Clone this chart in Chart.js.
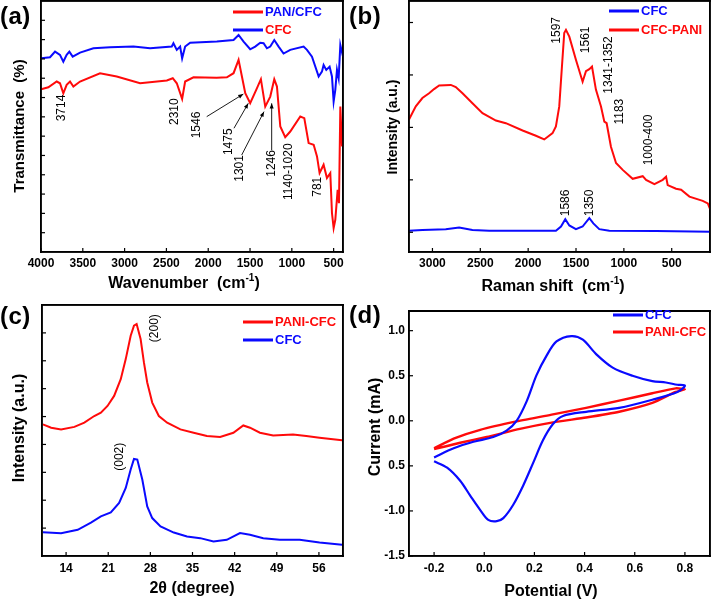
<!DOCTYPE html>
<html><head><meta charset="utf-8">
<script src="https://cdn.jsdelivr.net/npm/chart.js@4"></script>
<style>
html,body{margin:0;padding:0;background:#fff;}
#wrap{position:relative;width:713px;height:600px;overflow:hidden;background:#fff;}
canvas{position:absolute;}
.pl{position:absolute;font:bold 24px "Liberation Sans",Arial,Helvetica,sans-serif;color:#000;line-height:24px;letter-spacing:0.5px;}
</style></head><body>
<div id="wrap">
<canvas id="ca" width="356" height="300" style="left:0;top:0"></canvas>
<canvas id="cb" width="357" height="300" style="left:356px;top:0"></canvas>
<canvas id="cc" width="356" height="300" style="left:0;top:300px"></canvas>
<canvas id="cd" width="357" height="300" style="left:356px;top:300px"></canvas>
<div class="pl" style="left:0;top:4px">(a)</div>
<div class="pl" style="left:349px;top:4px">(b)</div>
<div class="pl" style="left:0;top:304px">(c)</div>
<div class="pl" style="left:349px;top:303px">(d)</div>
</div>
<script>
// ---------- (a) FTIR ----------
const ftirPanX = [4000,3912,3812,3773,3733,3693,3653,3613,3533,3294,3094,2815,2495,2424,2376,2312,2276,2176,1900,1777,1697,1637,1597,1557,1498,1426,1370,1318,1258,1210,1178,1138,1079,1019,899,851,799,739,699,668,620,580,540,520,500,480,452,436,420,400];
const ftirPanY = [8.43,8.53,8.83,8.74,8.22,8.66,8.83,8.57,8.83,9.26,9.09,8.74,8.88,9.0,8.74,7.93,8.83,9.05,9.02,9.05,9.26,9.95,9.09,8.22,7.71,8.4,8.95,7.53,8.05,8.95,8.57,6.5,5.95,6.24,7.02,6.93,5.64,5.55,4.95,4.09,4.52,3.83,4.09,2.02,1.24,1.67,3.22,2.53,7.53,5.47];
const ftirCfcX = [4000,3892,3832,3773,3733,3693,3661,3621,3533,3373,3174,2894,2695,2436,2416,2376,2336,2312,2276,2216,1897,1697,1637,1577,1498,1438,1378,1338,1298,1258,1210,1158,1099,1019,859,819,759,679,640,620,588,548,520,500,480,460,440,420,388];
const ftirCfcY = [10.03,10.09,10.38,10.21,9.86,10.21,10.38,10.12,10.33,10.55,10.6,10.64,10.55,10.64,10.81,10.47,10.64,10.03,10.64,10.84,10.9,10.98,11.24,10.9,10.5,10.64,10.84,10.81,10.55,10.64,10.98,10.64,10.28,10.47,10.64,10.47,10.12,9.09,9.34,9.69,9.43,9.6,9.09,7.8,8.4,9.43,9.0,10.72,10.12];
const ftirXTicks = [4000,3500,3000,2500,2000,1500,1000,500];
const ftirYTicks = [1,2,3,4,5,6,7,8,9,10,11,12];
const ftirNotes = [['3714',3749,7.46],['2310',2397,7.27],['1546',2138,6.58],['1475',1760,5.71],['1301',1628,4.33],['1246',1241,4.59],['1140-1020',1042,4.16],['781',695,3.38]];
const ftirArrows = [[2018,7.01,1580,8.18],[1692,6.41,1521,7.70],[1600,5.02,1333,7.27],[1241,5.28,1241,7.70]];

// ---------- (b) Raman ----------
const ramanCfcX = [3245,3105,2861,2721,2582,2407,1710,1657,1612,1570,1501,1431,1361,1319,1257,1152,664,99];
const ramanCfcY = [0.03,0.045,0.06,0.09,0.045,0.03,0.03,0.11,0.25,0.13,0.06,0.11,0.27,0.17,0.06,0.03,0.025,0.01];
const ramanPaniX = [3245,3174,3105,3035,2983,2930,2808,2756,2686,2582,2477,2337,2233,2058,1919,1832,1745,1710,1675,1647,1623,1605,1570,1501,1431,1396,1361,1333,1292,1239,1204,1180,1135,1082,1012,908,803,768,681,594,559,542,455,402,315,176,123,99];
const ramanPaniY = [2.15,2.4,2.56,2.65,2.73,2.8,2.81,2.77,2.65,2.46,2.27,2.13,2.08,1.94,1.84,1.77,1.89,2.02,2.4,3.16,3.8,3.86,3.73,3.29,2.87,3.07,3.11,3.16,2.72,2.4,2.11,2.08,1.63,1.32,1.19,1.02,1.07,1.0,0.92,1.0,1.06,0.9,0.83,0.81,0.68,0.6,0.55,0.44];
const ramanXTicks = [3000,2500,2000,1500,1000,500];
const ramanYTicks = [0,1,2,3,4];
const ramanNotes = [['1597',1699,3.85],['1561',1396,3.67],['1341-1352',1159,3.19],['1183',1047,2.30],['1000-400',740,1.76],['1586',1612,0.56],['1350',1361,0.56]];

// ---------- (c) XRD ----------
const xrdPaniX = [10.15,11.52,13.17,15.38,17.03,18.68,19.78,20.88,21.98,23.08,23.91,24.73,25.28,25.72,26.38,26.93,27.48,28.31,29.41,30.79,32.99,35.19,37.39,39.59,41.79,43.44,44.55,46.2,48.4,51.7,53.9,56.1,59.84];
const xrdPaniY = [4.72,4.6,4.54,4.63,4.78,5.02,5.14,5.38,5.74,6.34,7.06,7.9,8.26,8.32,7.78,6.94,6.22,5.5,5.02,4.78,4.54,4.42,4.3,4.27,4.42,4.68,4.6,4.42,4.32,4.36,4.3,4.24,4.15];
const xrdCfcX = [10.15,13.17,15.93,18.13,19.78,21.43,22.81,23.91,24.73,25.28,25.83,26.66,27.48,28.31,29.69,31.89,34.09,36.29,38.49,40.69,42.89,44.55,46.75,49.5,52.8,56.1,59.84];
const xrdCfcY = [0.85,0.82,0.94,1.2,1.42,1.56,1.9,2.44,3.1,3.48,3.46,2.74,1.78,1.36,1.06,0.84,0.7,0.64,0.52,0.58,0.82,0.76,0.64,0.58,0.58,0.48,0.4];
const xrdXTicks = [14,21,28,35,42,49,56];
const xrdYTicks = [1,2,3,4,5,6,7,8];
const xrdNotes = [['(200)',28.65,8.17],['(002)',22.9,3.56]];

// ---------- (d) CV ----------
const cvCfcV = [-0.2,-0.122,-0.043,0.036,0.089,0.129,0.169,0.208,0.248,0.288,0.347,0.393,0.446,0.512,0.591,0.67,0.724,0.77,0.8,0.77,0.67,0.538,0.406,0.314,0.274,0.234,0.195,0.155,0.115,0.076,0.05,0.016,-0.016,-0.056,-0.096,-0.148,-0.2];
const cvCfcI = [-0.406,-0.305,-0.233,-0.18,-0.108,0.0,0.216,0.504,0.72,0.88,0.94,0.90,0.74,0.59,0.50,0.44,0.425,0.40,0.39,0.32,0.234,0.144,0.10,0.054,-0.036,-0.216,-0.467,-0.72,-0.934,-1.08,-1.114,-1.10,-0.99,-0.83,-0.665,-0.52,-0.45];
const cvPaniV = [-0.2,-0.122,-0.016,0.129,0.274,0.406,0.538,0.67,0.763,0.8,0.763,0.67,0.538,0.406,0.274,0.142,0.01,-0.096,-0.2];
const cvPaniI = [-0.305,-0.197,-0.10,-0.007,0.072,0.144,0.223,0.306,0.36,0.35,0.32,0.198,0.10,0.036,-0.018,-0.09,-0.18,-0.244,-0.315];
const cvXTicks = [-0.2,0,0.2,0.4,0.6,0.8];
const cvYTicks = [-1.5,-1.0,-0.5,0,0.5,1.0];
const cvYTickLabels = ['-1.5','-1.0','0.5','0.0','0.5','1.0'];

// ---------- helpers ----------
const FONT = '"Liberation Sans", Arial, Helvetica, sans-serif';
const BLUE = '#0a0aff', RED = '#ff0a0a';
const pts = (xs, ys) => xs.map((x, i) => ({x: x, y: ys[i]}));

function drawRich(ctx, parts, x, y, rot, size) {
  ctx.save();
  ctx.translate(x, y);
  if (rot) ctx.rotate(rot);
  ctx.textBaseline = 'middle';
  ctx.textAlign = 'left';
  ctx.fillStyle = '#000';
  let total = 0;
  const ws = parts.map(p => {
    ctx.font = 'bold ' + (p.sup ? Math.round(size * 0.62) : size) + 'px ' + FONT;
    const w = ctx.measureText(p.t).width; total += w; return w;
  });
  let cx = -total / 2;
  parts.forEach((p, i) => {
    ctx.font = 'bold ' + (p.sup ? Math.round(size * 0.62) : size) + 'px ' + FONT;
    ctx.fillText(p.t, cx, p.sup ? -size * 0.36 : 0);
    cx += ws[i];
  });
  ctx.restore();
}

const deco = {
  id: 'deco',
  afterDraw(chart, args, o) {
    const ctx = chart.ctx, xs = chart.scales.x, ys = chart.scales.y;
    const xa = xs.getPixelForValue(xs.min), xb = xs.getPixelForValue(xs.max);
    const ya = ys.getPixelForValue(ys.min), yb = ys.getPixelForValue(ys.max);
    const L = Math.min(xa, xb), R = Math.max(xa, xb), T = Math.min(ya, yb), B = Math.max(ya, yb);
    ctx.save();
    ctx.fillStyle = '#000000';
    // inward tick marks
    xs.ticks.forEach(t => { const p = xs.getPixelForValue(t.value); ctx.fillRect(p - 0.6, B - 4, 1.2, 4); });
    ys.ticks.forEach(t => { const p = ys.getPixelForValue(t.value); ctx.fillRect(L, p - 0.6, 4, 1.2); });
    // frame
    const w = 1.6;
    ctx.fillRect(L - w / 2, T - w / 2, R - L + w, w);
    ctx.fillRect(L - w / 2, B - w / 2, R - L + w, w);
    ctx.fillRect(L - w / 2, T - w / 2, w, B - T + w);
    ctx.fillRect(R - w / 2, T - w / 2, w, B - T + w);
    // rotated annotations
    ctx.font = (o.noteFont || '12px ' + FONT);
    ctx.textAlign = 'center'; ctx.textBaseline = 'middle';
    (o.notes || []).forEach(n => {
      ctx.save();
      ctx.translate(xs.getPixelForValue(n[1]), ys.getPixelForValue(n[2]));
      ctx.rotate(-Math.PI / 2);
      ctx.fillText(n[0], 0, 0);
      ctx.restore();
    });
    // arrows
    ctx.strokeStyle = '#000000';
    ctx.lineWidth = 0.9;
    (o.arrows || []).forEach(a => {
      const x1 = xs.getPixelForValue(a[0]), y1 = ys.getPixelForValue(a[1]);
      const x2 = xs.getPixelForValue(a[2]), y2 = ys.getPixelForValue(a[3]);
      ctx.beginPath(); ctx.moveTo(x1, y1); ctx.lineTo(x2, y2); ctx.stroke();
      const ang = Math.atan2(y2 - y1, x2 - x1), HL = 5.5, W = 0.38;
      ctx.beginPath();
      ctx.moveTo(x2, y2);
      ctx.lineTo(x2 - HL * Math.cos(ang - W), y2 - HL * Math.sin(ang - W));
      ctx.lineTo(x2 - HL * Math.cos(ang + W), y2 - HL * Math.sin(ang + W));
      ctx.closePath(); ctx.fill();
    });
    // legend
    (o.legend || []).forEach(l => {
      ctx.fillStyle = l.line;
      ctx.fillRect(l.x, l.y - 1.5, 30, 3);
      ctx.fillStyle = l.color; ctx.font = 'bold 13px ' + FONT;
      ctx.textAlign = 'left'; ctx.textBaseline = 'middle';
      ctx.fillText(l.text, l.x + 32, l.y + 0.5);
    });
    (o.titles || []).forEach(t => drawRich(ctx, t.parts, t.x, t.y, t.rot, t.size));
    ctx.restore();
  }
};

function lineDs(label, data, color, width, tension) {
  return {label, data, borderColor: color, backgroundColor: color, borderWidth: width,
    pointRadius: 0, showLine: true, tension: tension || 0, fill: false};
}

function makeChart(id, cfg) {
  const tickFont = {family: FONT, size: 12, weight: 'bold'};
  const edge = {display: true, color: '#000', width: 1.5};
  return new Chart(document.getElementById(id), {
    type: 'scatter',
    data: {datasets: cfg.datasets},
    options: {
      responsive: false, animation: false,
      layout: {padding: cfg.padding},
      plugins: {legend: {display: false}, tooltip: {enabled: false}, deco: cfg.deco},
      scales: {
        x: {type: 'linear', position: 'bottom', min: cfg.x.min, max: cfg.x.max, reverse: !!cfg.x.reverse,
          grid: {display: false, drawTicks: false}, border: edge,
          afterBuildTicks: s => { s.ticks = cfg.x.ticks.map(v => ({value: v})); },
          afterFit: s => { s.height = cfg.x.h; },
          ticks: {display: true, autoSkip: false, maxRotation: 0, padding: cfg.x.pad || 4,
            color: '#000', font: tickFont, callback: cfg.x.fmt}},
        y: {type: 'linear', position: 'left', min: cfg.y.min, max: cfg.y.max,
          grid: {display: false, drawTicks: false}, border: edge,
          afterBuildTicks: s => { s.ticks = cfg.y.ticks.map(v => ({value: v})); },
          afterFit: s => { s.width = cfg.y.w; },
          ticks: {display: !!cfg.y.fmt, padding: 4, color: '#000', font: tickFont, callback: cfg.y.fmt}},
        x2: {type: 'linear', position: 'top', min: cfg.x.min, max: cfg.x.max,
          grid: {display: false, drawTicks: false}, border: edge,
          ticks: {display: false}, afterFit: s => { s.height = 0; }},
        y2: {type: 'linear', position: 'right', min: cfg.y.min, max: cfg.y.max,
          grid: {display: false, drawTicks: false}, border: edge,
          ticks: {display: false}, afterFit: s => { s.width = 0; }}
      }
    },
    plugins: [deco]
  });
}

// (a)
makeChart('ca', {
  padding: {left: 0, right: 13, top: 1, bottom: 0},
  datasets: [lineDs('PAN/CFC', pts(ftirPanX, ftirPanY), RED, 2), lineDs('CFC', pts(ftirCfcX, ftirCfcY), BLUE, 2)],
  x: {min: 388, max: 4000, reverse: true, ticks: ftirXTicks, h: 48, fmt: v => String(v)},
  y: {min: 0, max: 13, ticks: ftirYTicks, w: 41},
  deco: {
    notes: ftirNotes, arrows: ftirArrows, noteFont: '12px ' + FONT,
    legend: [{x: 233, y: 12, line: RED, text: 'PAN/CFC', color: BLUE}, {x: 233, y: 30, line: BLUE, text: 'CFC', color: RED}],
    titles: [
      {parts: [{t: 'Wavenumber  (cm'}, {t: '-1', sup: true}, {t: ')'}], x: 184, y: 284, size: 16},
      {parts: [{t: 'Transmittance  (%)'}], x: 20, y: 126, rot: -Math.PI / 2, size: 15}
    ]
  }
});

// (b)
makeChart('cb', {
  padding: {left: 0, right: 3, top: 1, bottom: 0},
  datasets: [lineDs('CFC', pts(ramanCfcX, ramanCfcY), BLUE, 2), lineDs('CFC-PANI', pts(ramanPaniX, ramanPaniY), RED, 2)],
  x: {min: 100, max: 3245, reverse: true, ticks: ramanXTicks, h: 48, fmt: v => String(v)},
  y: {min: -0.376, max: 4.41, ticks: ramanYTicks, w: 53},
  deco: {
    notes: ramanNotes, noteFont: '12px ' + FONT,
    legend: [{x: 253, y: 11, line: BLUE, text: 'CFC', color: BLUE}, {x: 253, y: 30, line: RED, text: 'CFC-PANI', color: RED}],
    titles: [
      {parts: [{t: 'Raman shift  (cm'}, {t: '-1', sup: true}, {t: ')'}], x: 197, y: 287, size: 16},
      {parts: [{t: 'Intensity (a.u.)'}], x: 37, y: 127, rot: -Math.PI / 2, size: 14}
    ]
  }
});

// (c)
makeChart('cc', {
  padding: {left: 0, right: 13, top: 5, bottom: 0},
  datasets: [lineDs('PANI-CFC', pts(xrdPaniX, xrdPaniY), RED, 2), lineDs('CFC', pts(xrdCfcX, xrdCfcY), BLUE, 2)],
  x: {min: 10, max: 60, ticks: xrdXTicks, h: 44, fmt: v => String(v), pad: 5},
  y: {min: 0, max: 9, ticks: xrdYTicks, w: 42},
  deco: {
    notes: xrdNotes, noteFont: '12px ' + FONT,
    legend: [{x: 243, y: 22, line: RED, text: 'PANI-CFC', color: RED}, {x: 243, y: 40, line: BLUE, text: 'CFC', color: BLUE}],
    titles: [
      {parts: [{t: '2θ (degree)'}], x: 192, y: 289, size: 16},
      {parts: [{t: 'Intensity (a.u.)'}], x: 20, y: 128, rot: -Math.PI / 2, size: 16}
    ]
  }
});

// (d)
makeChart('cd', {
  padding: {left: 0, right: 3, top: 4, bottom: 0},
  datasets: [lineDs('CFC', pts(cvCfcV, cvCfcI), BLUE, 2.2, 0.3), lineDs('PANI-CFC', pts(cvPaniV, cvPaniI), RED, 2.4, 0.2)],
  x: {min: -0.3, max: 0.9, ticks: cvXTicks, h: 44, fmt: v => v.toFixed(1), pad: 5},
  y: {min: -1.5, max: 1.216, ticks: cvYTicks, w: 53, fmt: (v, i) => cvYTickLabels[i]},
  deco: {
    legend: [{x: 257, y: 15, line: BLUE, text: 'CFC', color: BLUE}, {x: 257, y: 32, line: RED, text: 'PANI-CFC', color: RED}],
    titles: [
      {parts: [{t: 'Potential (V)'}], x: 195, y: 292, size: 16},
      {parts: [{t: 'Current (mA)'}], x: 20, y: 127, rot: -Math.PI / 2, size: 16}
    ]
  }
});
</script>
</body></html>
